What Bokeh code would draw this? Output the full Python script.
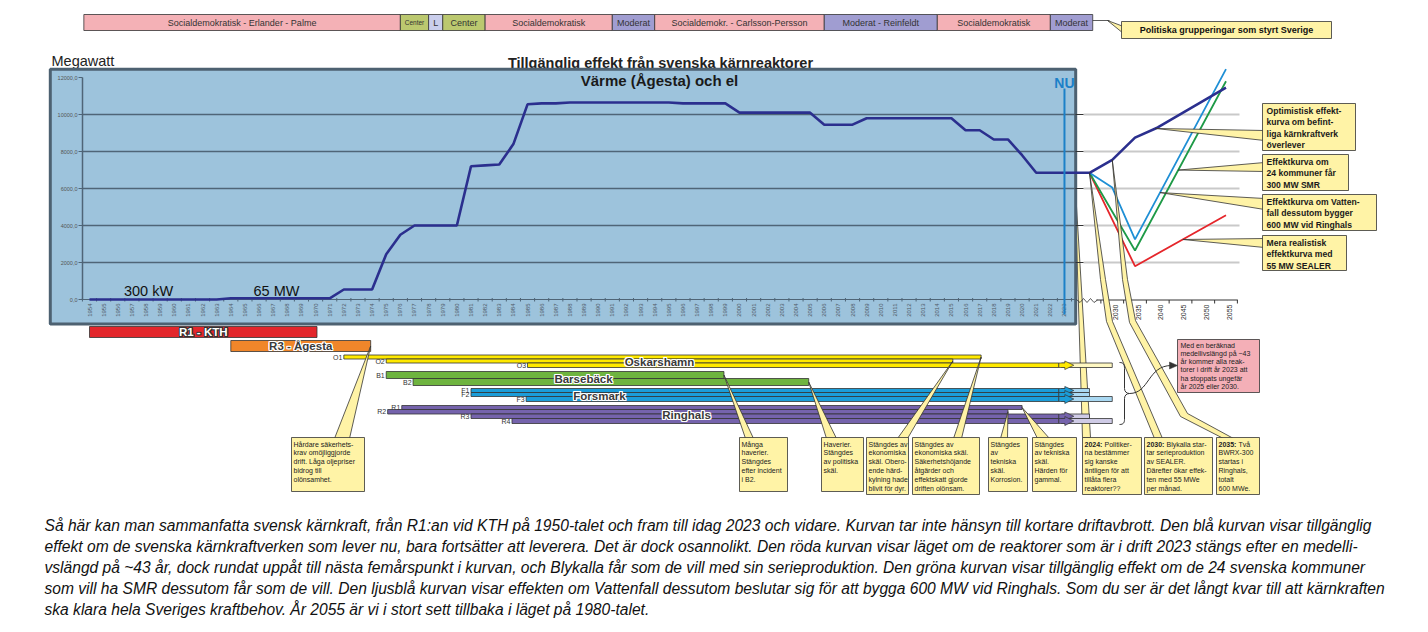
import numpy as np
from bokeh.plotting import figure
from bokeh.models import Range1d
from bokeh.core.properties import value
from bokeh.embed import file_html
from bokeh.resources import INLINE

# ======================= DATA =======================
hist_years = list(range(1954, 2024))
hist_mw = [0.3, 0.3, 0.3, 0.3, 0.3, 0.3, 0.3, 0.3, 0.3, 0.3,
           65, 65, 65, 65, 65, 65, 65, 65,
           540, 540, 540,
           2450, 3500, 4000, 4000, 4000, 4000,
           7200, 7250, 7300, 8400,
           10550, 10600, 10600, 10650, 10650, 10650, 10650, 10650, 10650, 10650, 10650,
           10600, 10600, 10600, 10600,
           10100, 10100, 10100, 10100, 10100, 10100,
           9450, 9450, 9450,
           9800, 9800, 9800, 9800, 9800, 9800, 9800,
           9150, 9150,
           8650, 8650,
           7800,
           6850, 6850, 6850]

opt_years = [2025, 2030, 2035, 2040, 2055]
opt_mw = [6850, 7550, 8750, 9300, 11450]
vf_years = [2025, 2030, 2035, 2055]
vf_mw = [6850, 6050, 3250, 12450]
smr_years = [2025, 2035, 2055]
smr_mw = [6850, 2650, 11800]
real_years = [2025, 2035, 2055]
real_mw = [6850, 1800, 4550]

y_ticks = [0, 2000, 4000, 6000, 8000, 10000, 12000]
y_tick_labels = ["0,0", "2000,0", "4000,0", "6000,0", "8000,0", "10000,0", "12000,0"]
proj_tick_years = [2030, 2035, 2040, 2045, 2050, 2055]
NU_YEAR = 2023

gov_labels = ["Socialdemokratisk - Erlander - Palme", "Center", "L", "Center", "Socialdemokratisk",
              "Moderat", "Socialdemokr. - Carlsson-Persson", "Moderat - Reinfeldt", "Socialdemokratisk", "Moderat"]
gov_start = [1953.6, 1976, 1978, 1979, 1982, 1991, 1994, 2006, 2014, 2022]
gov_end = [1976, 1978, 1979, 1982, 1991, 1994, 2006, 2014, 2022, 2025]
gov_party = ["S", "C", "L", "C", "S", "M", "S", "M", "S", "M"]

reactor_names = ["R1 - KTH", "R3 - Ågesta", "O1", "O2", "O3", "B1", "B2", "F1", "F2", "F3", "R1", "R2", "R3", "R4"]
reactor_plant = ["KTH", "Ågesta", "Oskarshamn", "Oskarshamn", "Oskarshamn", "Barsebäck", "Barsebäck",
                 "Forsmark", "Forsmark", "Forsmark", "Ringhals", "Ringhals", "Ringhals", "Ringhals"]
reactor_start = [1954.0, 1964.0, 1972.0, 1975.0, 1985.0, 1975.0, 1976.9, 1981.0, 1981.0, 1984.9,
                 1976.1, 1975.1, 1981.0, 1983.9]
reactor_stop = [1970.1, 1973.9, 2017.1, 2015.1, None, 1998.9, 2004.9, None, None, None,
                2020.0, 2019.0, None, None]
reactor_expected_stop = [None, None, None, None, 2030, None, None, 2025, 2025, 2030, None, None, 2025, 2030]

paragraph = [
    "Så här kan man sammanfatta svensk kärnkraft, från R1:an vid KTH på 1950-talet och fram till idag 2023 och vidare. Kurvan tar inte hänsyn till kortare driftavbrott. Den blå kurvan visar tillgänglig",
    "effekt om de svenska kärnkraftverken som lever nu, bara fortsätter att leverera. Det är dock osannolikt. Den röda kurvan visar läget om de reaktorer som är i drift 2023 stängs efter en medelli-",
    "vslängd på ~43 år, dock rundat uppåt till nästa femårspunkt i kurvan, och Blykalla får som de vill med sin serieproduktion. Den gröna kurvan visar tillgänglig effekt om de 24 svenska kommuner",
    "som vill ha SMR dessutom får som de vill. Den ljusblå kurvan visar effekten om Vattenfall dessutom beslutar sig för att bygga 600 MW vid Ringhals. Som du ser är det långt kvar till att kärnkraften",
    "ska klara hela Sveriges kraftbehov. År 2055 är vi i stort sett tillbaka i läget på 1980-talet.",
]

# ======================= LAYOUT =======================
W, H, M = 1424, 628, 1
PXY = 14.13          # px per year, history
PPY = 4.55           # px per year, projection
MWPX = 2000.0 / 37   # MW per px


def X(sx):
    return 1954 + (np.asarray(sx, dtype=float) - 90) / PXY


def Y(sy):
    return (300 - np.asarray(sy, dtype=float)) * MWPX


def sx_of_year(yr):
    return 90 + (np.asarray(yr, dtype=float) - 1954) * PXY


def sy_of_mw(mw):
    return 300 - np.asarray(mw, dtype=float) / MWPX


def sxp(yr):
    return 1090 + (np.asarray(yr, dtype=float) - 2025) * PPY


def XP(yr):
    return X(sxp(yr))


F = value("Liberation Sans")
DARK = "#333333"
YEL = "#FFF3A6"

p = figure(width=W, height=H, x_range=Range1d(float(X(M)), float(X(M + W))),
           y_range=Range1d(float(Y(M + H)), float(Y(M))),
           output_backend="svg", toolbar_location=None, min_border=0, title=None,
           x_axis_location=None, y_axis_location=None,
           background_fill_color="white", border_fill_color="white", outline_line_color=None)
p.grid.visible = False


def T(x, y, s, size, color="#222222", style="normal", align="left", baseline="middle",
      angle=0.0, font=F, xo=0, yo=0):
    xs = list(np.atleast_1d(x))
    ys = list(np.atleast_1d(y))
    ss = s if isinstance(s, list) else [s]
    if len(ys) == 1 and len(ss) > 1:
        ys = ys * len(ss)
    if len(xs) == 1 and len(ss) > 1:
        xs = xs * len(ss)
    p.text(x=xs, y=ys, text=ss, text_font=font, text_font_size=f"{size}px", text_font_style=style,
           text_color=color, text_align=align, text_baseline=baseline, angle=angle,
           x_offset=xo, y_offset=yo)


def halo(x, y, s, size, color, halo_color, style="bold"):
    for dx, dy in [(-1, 0), (1, 0), (0, -1), (0, 1), (-1, -1), (1, 1), (-1, 1), (1, -1)]:
        T(x, y, s, size, color=halo_color, style=style, align="center", xo=dx, yo=dy)
    T(x, y, s, size, color=color, style=style, align="center")


def rect_px(x0, x1, y0, y1, fill, line=DARK, lw=0.8):
    p.quad(left=[float(X(x0))], right=[float(X(x1))], top=[float(Y(y0))], bottom=[float(Y(y1))],
           fill_color=fill, line_color=line, line_width=lw)


def patch_px(pts, fill=YEL, line=DARK, lw=0.8):
    xs = [float(X(a)) for a, b in pts]
    ys = [float(Y(b)) for a, b in pts]
    p.patch(xs, ys, fill_color=fill, line_color=line, line_width=lw)


def box_lines(x0, y0, lines, size, lh, style="normal", color="#222222", prefix=None, prefix_w=0):
    for i, s in enumerate(lines):
        yy = float(Y(y0 + i * lh))
        if i == 0 and prefix:
            T(float(X(x0)), yy, prefix, size, color=color, style="bold", baseline="top")
            T(float(X(x0)), yy, s, size, color=color, style=style, baseline="top", xo=prefix_w)
        else:
            T(float(X(x0)), yy, s, size, color=color, style=style, baseline="top")


# ---------------- political bar ----------------
party_color = {"S": "#F4B1B6", "C": "#BBC86F", "L": "#CACEEC", "M": "#A09DD1"}
gov_sizes = [9, 6.5, 9, 9, 9, 9, 9, 9, 9, 9]
p.quad(left=gov_start, right=gov_end, top=[float(Y(15))] * len(gov_start), bottom=[float(Y(31))] * len(gov_start),
       fill_color=[party_color[g] for g in gov_party], line_color=DARK, line_width=0.8)
for lab, a, b, sz in zip(gov_labels, gov_start, gov_end, gov_sizes):
    T((a + b) / 2, float(Y(23)), lab, sz, color="#333333", align="center")
p.line([gov_end[-1], float(X(1110))], [float(Y(21))] * 2, line_color=DARK, line_width=0.8)
patch_px([(1108, 21), (1124, 27), (1124, 34)])
rect_px(1122, 1332, 22, 39, YEL)
T(float(X(1227)), float(Y(30.5)), "Politiska grupperingar som styrt Sverige", 9, color="#111111",
  style="bold", align="center")

# ---------------- band to 2024 box (behind frame) ----------------
tip_now = (float(sx_of_year(NU_YEAR)) + 10, float(sy_of_mw(hist_mw[-1])))
patch_px([tip_now, (1083, 438), (1091, 438)])

# ---------------- title (partly hidden by frame border) ----------------
T(float(X(661)), float(Y(63.5)), "Tillgänglig effekt från svenska kärnreaktorer", 14.5, color="#222222",
  style="bold", align="center")

# ---------------- main frame ----------------
rect_px(49.5, 1077.5, 70, 325.5, "#9DC3DC", line=None)
T(float(X(660)), float(Y(81)), "Värme (Ågesta) och el", 15, color="#1a1a1a", style="bold", align="center")
T(float(X(52)), float(Y(61)), "Megawatt", 14.5, color="#222222")

# gridlines
grid_levels = [v for v in y_ticks if 0 < v < 12000]
p.segment(x0=[float(X(83))] * len(grid_levels), x1=[float(X(1076))] * len(grid_levels),
          y0=grid_levels, y1=grid_levels, line_color="#4F6577", line_width=1.6)
# y axis
p.segment(x0=[float(X(83))], x1=[float(X(83))], y0=[0], y1=[12000], line_color="#4F6577", line_width=1.5)
p.segment(x0=[float(X(79))] * len(y_ticks), x1=[float(X(83))] * len(y_ticks), y0=y_ticks, y1=y_ticks,
          line_color="#4F6577", line_width=1)
T(float(X(78)), y_ticks, y_tick_labels, 5.5, color="#555555", align="right")
# x axis
p.segment(x0=[float(X(83))], x1=[float(X(1076))], y0=[0], y1=[0], line_color="#4F6577", line_width=1.2)
tick_x = [yr - 0.5 for yr in hist_years] + [hist_years[-1] + 0.5]
p.segment(x0=tick_x, x1=tick_x, y0=[float(Y(298.5))] * len(tick_x), y1=[float(Y(302))] * len(tick_x),
          line_color="#4F6577", line_width=1)
T(hist_years, float(Y(304)), [str(v) for v in hist_years], 6, color="#4f5a66", align="right",
  angle=np.pi / 2)

T(float(X(149)), float(Y(291)), "300 kW", 14.5, color="#111111", align="center")
T(float(X(277)), float(Y(291)), "65 MW", 14.5, color="#111111", align="center")

# frame border
p.quad(left=[float(X(50.8))], right=[float(X(1076.2))], top=[float(Y(69.8))], bottom=[float(Y(324.5))],
       fill_color=None, line_color="#4D6171", line_width=3)

# ---------------- projection area ----------------
p.segment(x0=[float(X(1084))] * len(grid_levels), x1=[float(X(1240))] * len(grid_levels),
          y0=grid_levels, y1=grid_levels, line_color="#C9C9C9", line_width=2)
p.segment(x0=[float(X(1076))] * len(grid_levels), x1=[float(X(1084))] * len(grid_levels),
          y0=grid_levels, y1=grid_levels, line_color="#333333", line_width=1)
zz_x = [1077, 1080.5, 1084, 1087.5, 1091, 1094.5, 1098]
zz_y = [300, 303, 299, 303, 299, 303, 300.5]
p.line([float(X(v)) for v in zz_x], [float(Y(v)) for v in zz_y], line_color="#333333", line_width=0.8)
p.segment(x0=[float(XP(2026.5))], x1=[float(XP(2057.6))], y0=[float(Y(300.5))], y1=[float(Y(300.5))],
          line_color="#333333", line_width=1)
pt = [yr - 2.5 for yr in proj_tick_years] + [proj_tick_years[-1] + 2.5]
p.segment(x0=list(XP(pt)), x1=list(XP(pt)), y0=[float(Y(300.5))] * len(pt), y1=[float(Y(304))] * len(pt),
          line_color="#333333", line_width=1)
T(list(XP(proj_tick_years)), float(Y(305)), [str(v) for v in proj_tick_years], 7, color="#333333",
  align="right", angle=np.pi / 2, xo=3)

# curves
p.line(list(XP(real_years)), real_mw, line_color="#E5262B", line_width=1.8)
p.line(list(XP(smr_years)), smr_mw, line_color="#1E9A47", line_width=1.8)
p.line(list(XP(vf_years)), vf_mw, line_color="#1F8FD5", line_width=1.8)
p.line(hist_years + list(XP(opt_years)), hist_mw + opt_mw, line_color="#2B2F8E", line_width=2.6)

# NU
p.segment(x0=[NU_YEAR], x1=[NU_YEAR], y0=[float(Y(89))], y1=[float(Y(315))], line_color="#1B80C8", line_width=2)
T(NU_YEAR, float(Y(83)), "NU", 14, color="#1B80C8", style="bold", align="center")


# right annotation boxes
def curve_pt(years, vals, yr):
    return float(sxp(yr)), float(sy_of_mw(np.interp(yr, years, vals)))


notes = [
    (curve_pt(opt_years, opt_mw, 2039.5), 104, 151, 1356, 131, 141,
     ["Optimistisk effekt-", "kurva om befint-", "liga kärnkraftverk", "överlever"]),
    (curve_pt(smr_years, smr_mw, 2044.5), 155, 191, 1349, 163, 172,
     ["Effektkurva om", "24 kommuner får", "300 MW SMR"]),
    (curve_pt(vf_years, vf_mw, 2040.5), 195, 231, 1377, 199, 210,
     ["Effektkurva om Vatten-", "fall dessutom bygger", "600 MW vid Ringhals"]),
    (curve_pt(real_years, real_mw, 2045.5), 236, 271, 1347, 239, 248,
     ["Mera realistisk", "effektkurva med", "55 MW SEALER"]),
]
for tip, y0, y1, x1, w0, w1, lines in notes:
    patch_px([tip, (1265, w0), (1265, w1)])
    rect_px(1263, x1, y0, y1, YEL)
    box_lines(1267, y0 + 2.5, lines, 8.6, 11.3, style="bold", color="#1a1a1a")

# ---------------- reactor bars ----------------
row_px = [(327, 338), (341, 352), (355.5, 359.5), (359.5, 363.5), (363.5, 368), (372, 379), (379, 386),
          (389, 393), (393, 397), (397, 402), (406, 410), (410, 414.5), (414.5, 419), (419, 424)]
plant_color = {"KTH": "#E3262B", "Ågesta": "#F0862A", "Oskarshamn": "#FFE900", "Barsebäck": "#6EB43F",
               "Forsmark": "#1B9DD9", "Ringhals": "#7563AC"}
plant_light = {"Oskarshamn": "#FFF8C2", "Forsmark": "#A9D8F2", "Ringhals": "#CFCBE6"}

for i, name in enumerate(reactor_names):
    t, b = row_px[i]
    if reactor_expected_stop[i] is not None:
        rect_px(1062, float(sxp(reactor_expected_stop[i])), t, b, plant_light[reactor_plant[i]])
for i, name in enumerate(reactor_names):
    t, b = row_px[i]
    col = plant_color[reactor_plant[i]]
    if reactor_stop[i] is not None:
        p.quad(left=[reactor_start[i]], right=[reactor_stop[i]], top=[float(Y(t))], bottom=[float(Y(b))],
               fill_color=col, line_color=DARK, line_width=0.8)
    else:
        end = NU_YEAR - 0.4
        p.quad(left=[reactor_start[i]], right=[end], top=[float(Y(t))], bottom=[float(Y(b))],
               fill_color=col, line_color=DARK, line_width=0.8)
        sx_e = float(sx_of_year(end))
        c = (t + b) / 2
        patch_px([(sx_e, t), (sx_e + 6, t), (sx_e + 6, t - 2), (sx_e + 15, c), (sx_e + 6, b + 2),
                  (sx_e + 6, b), (sx_e, b)], fill=col, lw=0.7)
    if i >= 2:
        T(reactor_start[i], float(Y((t + b) / 2)), name, 7, color="#333333", align="right", xo=-1.5)

halo((reactor_start[0] + reactor_stop[0]) / 2, float(Y(332.5)), reactor_names[0], 11.5, "white", "#333333")
halo((reactor_start[1] + reactor_stop[1]) / 2, float(Y(346.5)), reactor_names[1], 11.5, "#3a3a3a", "white")
group_label_px = {"Oskarshamn": (660, 362), "Barsebäck": (584, 379.5), "Forsmark": (600, 396),
                  "Ringhals": (687, 415)}
for g, (gx, gy) in group_label_px.items():
    halo(float(X(gx)), float(Y(gy)), g, 11.5, "#3a3a3a", "white")


# ---------------- bottom callouts ----------------
def reactor_end_pt(name_idx):
    t, b = row_px[name_idx]
    return float(sx_of_year(reactor_stop[name_idx])), (t + b) / 2


callouts = [
    (reactor_end_pt(1), 335, 350, 292, 365, 492,
     ["Hårdare säkerhets-", "krav omöjliggjorde", "drift. Låga oljepriser", "bidrog till", "olönsamhet."]),
    (reactor_end_pt(5), 746, 754, 740, 788, 492,
     ["Många", "haverier.", "Stängdes", "efter incident", "i B2."]),
    (reactor_end_pt(6), 827, 837, 822, 864, 492,
     ["Haverier.", "Stängdes", "av politiska", "skäl."]),
    (reactor_end_pt(3), 898, 908, 867, 909, 495,
     ["Stängdes av", "ekonomiska", "skäl. Obero-", "ende härd-", "kylning hade", "blivit för dyr."]),
    (reactor_end_pt(2), 954, 962, 913, 980, 495,
     ["Stängdes av", "ekonomiska skäl.", "Säkerhetshöjande", "åtgärder och", "effektskatt gjorde",
      "driften olönsam."]),
    (reactor_end_pt(11), 1001, 1008, 989, 1028, 492,
     ["Stängdes", "av", "tekniska", "skäl.", "Korrosion."]),
    (reactor_end_pt(10), 1038, 1050, 1033, 1077, 492,
     ["Stängdes", "av tekniska", "skäl.", "Härden för", "gammal."]),
]
for tip, b0, b1, x0, x1, y1, lines in callouts:
    patch_px([tip, (b0, 439), (b1, 439)])
for tip, b0, b1, x0, x1, y1, lines in callouts:
    rect_px(x0, x1, 438, y1, YEL)
    box_lines(x0 + 2, 441, lines, 7, 8.9)

# bands from projection to future boxes
t1 = curve_pt(opt_years, opt_mw, 2025)
t2 = curve_pt(opt_years, opt_mw, 2030)
patch_px([t1, (1101, 280), (1107, 322), (1155, 439), (1163, 439), (1113, 322), (1106, 280)])
patch_px([t2, (1123, 280), (1130, 323), (1181, 417), (1224, 439), (1234, 439), (1188, 414), (1136, 321),
          (1128, 280)])

future = [
    (1083, 1142, "2024:", ["Politiker-", "na bestämmer", "sig kanske", "äntligen för att", "tillåta flera",
                           "reaktorer??"]),
    (1145, 1213, "2030:", ["Blykalla star-", "tar serieproduktion", "av SEALER.", "Därefter ökar effek-",
                           "ten med 55 MWe", "per månad."]),
    (1217, 1260, "2035:", ["Två", "BWRX-300", "startas i", "Ringhals,", "totalt", "600 MWe."]),
]
for x0, x1, pre, lines in future:
    rect_px(x0, x1, 438, 495, YEL)
    box_lines(x0 + 2, 441, lines, 7, 8.9, prefix=pre, prefix_w=20)

# pink note with braces
bx = 1120
p.bezier(x0=[float(X(bx))], y0=[float(Y(363))], x1=[float(X(bx + 5))], y1=[float(Y(369))],
         cx0=[float(X(bx + 4))], cy0=[float(Y(363))], cx1=[float(X(bx + 5))], cy1=[float(Y(365))],
         line_color=DARK, line_width=1)
p.line([float(X(bx + 5))] * 2, [float(Y(369)), float(Y(389))], line_color=DARK, line_width=1)
p.bezier(x0=[float(X(bx + 5))], y0=[float(Y(389))], x1=[float(X(bx + 10))], y1=[float(Y(394))],
         cx0=[float(X(bx + 5))], cy0=[float(Y(392))], cx1=[float(X(bx + 7))], cy1=[float(Y(394))],
         line_color=DARK, line_width=1)
p.bezier(x0=[float(X(bx + 10))], y0=[float(Y(394))], x1=[float(X(bx + 5))], y1=[float(Y(399))],
         cx0=[float(X(bx + 7))], cy0=[float(Y(394))], cx1=[float(X(bx + 5))], cy1=[float(Y(396))],
         line_color=DARK, line_width=1)
p.line([float(X(bx + 5))] * 2, [float(Y(399)), float(Y(420))], line_color=DARK, line_width=1)
p.bezier(x0=[float(X(bx + 5))], y0=[float(Y(420))], x1=[float(X(bx))], y1=[float(Y(425))],
         cx0=[float(X(bx + 5))], cy0=[float(Y(423))], cx1=[float(X(bx + 4))], cy1=[float(Y(425))],
         line_color=DARK, line_width=1)
p.bezier(x0=[float(X(bx + 10))], y0=[float(Y(394))], x1=[float(X(1172))], y1=[float(Y(366))],
         cx0=[float(X(1150))], cy0=[float(Y(394))], cx1=[float(X(1148))], cy1=[float(Y(366))],
         line_color=DARK, line_width=1)
patch_px([(1170, 362.5), (1178, 366), (1170, 369.5)], fill=DARK, lw=0.5)
rect_px(1178, 1260, 340, 393, "#F4AFB7")
box_lines(1181, 342.2, ["Med en beräknad", "medellivslängd på ~43", "år kommer alla reak-",
                        "torer i drift år 2023 att", "ha stoppats ungefär", "år 2025 eller 2030."], 7, 8.2)

# ---------------- paragraph ----------------
for i, line in enumerate(paragraph):
    T(float(X(45)), float(Y(526 + i * 21)), line, 15.6, color="#111111", style="italic")

open("out.html", "w").write(file_html(p, INLINE, "Kärnkraft"))
